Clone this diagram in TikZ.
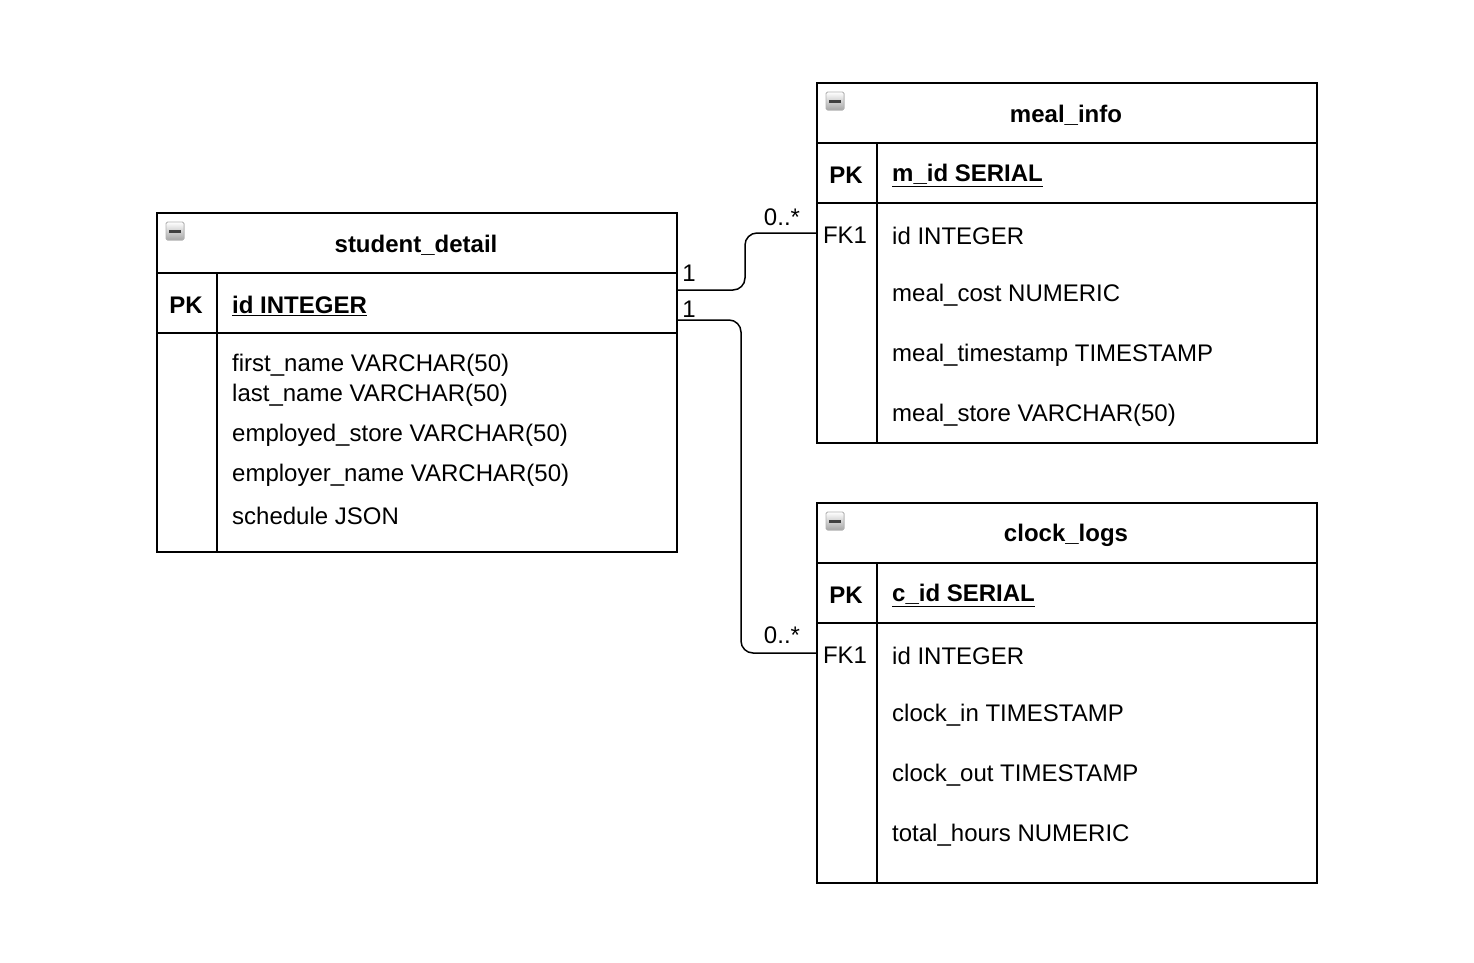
\documentclass[tikz,border=0pt]{standalone}
\usepackage{fontspec}
\setmainfont{Liberation Sans}
\usetikzlibrary{calc}
\begin{document}
\begin{tikzpicture}[x=1pt,y=-1pt,
  txt/.style={font=\fontsize{24}{28}\selectfont, inner sep=0pt, yshift=-1.5pt},
  tbl/.style={draw, line width=1.5pt, anchor=north west, outer sep=0pt, inner sep=0pt, minimum width=#1},
  sep/.style={line width=1.5pt},
  conn/.style={line width=1.5pt, rounded corners=12pt},
  field/.style={txt, anchor=west},
  keyl/.style={txt, font=\fontsize{24}{28}\selectfont\bfseries},
  keyfield/.style={field, font=\fontsize{24}{28}\selectfont\bfseries},
  title/.style={txt, font=\fontsize{24}{28}\selectfont\bfseries},
  lbl/.style={txt, anchor=center}]
\useasboundingbox (0,0) rectangle (1474,962);
\tikzset{minusicon/.pic={
  \fill[rounded corners=1.5pt, top color=white, bottom color=black!35, draw=black!30, line width=0.8pt] (-9,-9) rectangle (9,9);
  \fill[black!75] (-6,-1.5) rectangle (6,1.5);
}}
% ---------- student_detail ----------
\node[tbl=520pt, minimum height=339pt] (sd) at (157,213) {};
\draw[sep] (157,273) -- (677,273);
\draw[sep] (157,333) -- (677,333);
\draw[sep] (217,273) -- (217,552);
\pic at (175,231) {minusicon};
\node[title] (sdt) at (416,244) {student\_detail};
\node[keyl] (sdpk) at (186,304) {PK};
\node[keyfield] (sdid) at (232,304) {\underline{id INTEGER}};
\node[field] (sd1) at (232,364) {first\_name VARCHAR(50)};
\node[field] (sd2) at (232,394) {last\_name VARCHAR(50)};
\node[field] (sd3) at (232,434) {employed\_store VARCHAR(50)};
\node[field] (sd4) at (232,474) {employer\_name VARCHAR(50)};
\node[field] (sd5) at (232,514) {schedule JSON};
% ---------- meal_info ----------
\node[tbl=500pt, minimum height=360pt] (mi) at (817,83) {};
\draw[sep] (817,143) -- (1317,143);
\draw[sep] (817,203) -- (1317,203);
\draw[sep] (877,143) -- (877,443);
\pic at (835,101) {minusicon};
\node[title] (mit) at (1066,114) {meal\_info};
\node[keyl] (mipk) at (846,174) {PK};
\node[keyfield] (miid) at (892,174) {\underline{m\_id SERIAL}};
\node[txt] (mifk) at (845,234) {FK1};
\node[field] (mi1) at (892,234) {id INTEGER};
\node[field] (mi2) at (892,294) {meal\_cost NUMERIC};
\node[field] (mi3) at (892,354) {meal\_timestamp TIMESTAMP};
\node[field] (mi4) at (892,414) {meal\_store VARCHAR(50)};
% ---------- clock_logs ----------
\node[tbl=500pt, minimum height=380pt] (cl) at (817,503) {};
\draw[sep] (817,563) -- (1317,563);
\draw[sep] (817,623) -- (1317,623);
\draw[sep] (877,563) -- (877,883);
\pic at (835,521) {minusicon};
\node[title] (clt) at (1066,534) {clock\_logs};
\node[keyl] (clpk) at (846,594) {PK};
\node[keyfield] (clid) at (892,594) {\underline{c\_id SERIAL}};
\node[txt] (clfk) at (845,654) {FK1};
\node[field] (cl1) at (892,654) {id INTEGER};
\node[field] (cl2) at (892,714) {clock\_in TIMESTAMP};
\node[field] (cl3) at (892,774) {clock\_out TIMESTAMP};
\node[field] (cl4) at (892,834) {total\_hours NUMERIC};
% ---------- connectors ----------
\coordinate (sdA) at (677,290);
\coordinate (sdB) at (677,320);
\coordinate (miA) at (817,233);
\coordinate (clA) at (817,653);
\draw[conn] (sdA) -- (745,290) -- (745,233) -- (miA);
\draw[conn] (sdB) -- (741,320) -- (741,653) -- (clA);
\node[lbl] (l1) at (689,272) {1};
\node[lbl] (l2) at (689,308) {1};
\node[lbl] (l3) at (782,216) {0..*};
\node[lbl] (l4) at (782,634) {0..*};
\end{tikzpicture}
\end{document}
